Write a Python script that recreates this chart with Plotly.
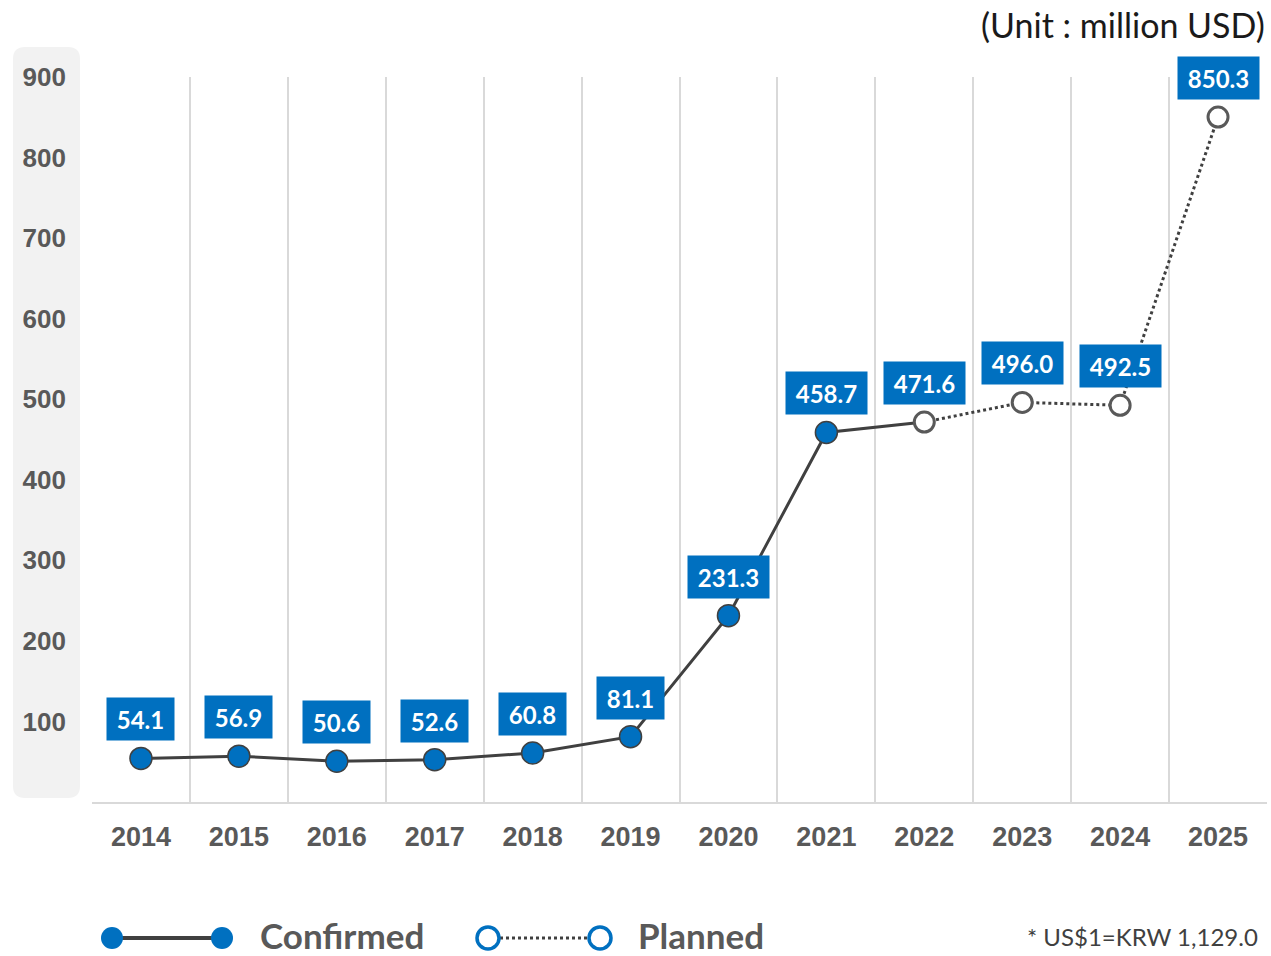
import plotly.graph_objects as go

years = ["2014", "2015", "2016", "2017", "2018", "2019", "2020", "2021", "2022", "2023", "2024", "2025"]
confirmed_years = years[:9]
confirmed_values = [54.1, 56.9, 50.6, 52.6, 60.8, 81.1, 231.3, 458.7, 471.6]
planned_years = years[8:]
planned_values = [471.6, 496.0, 492.5, 850.3]
y_ticks = [100, 200, 300, 400, 500, 600, 700, 800, 900]

W, H = 1271, 956
L, R, T, B = 92, 1267, 77, 802


def px(x):
    return (x - L) / (R - L)


def py(y):
    return (B - y) / (B - T)


BLUE = "#0070c0"
LINE = "#404040"
LABEL_FONT = "Liberation Sans"
CAL = "Lato"

fig = go.Figure()

# confirmed line
fig.add_trace(go.Scatter(
    x=confirmed_years, y=confirmed_values, mode="lines",
    line=dict(color=LINE, width=3), showlegend=False, hoverinfo="skip"))

# planned dotted line with open markers
fig.add_trace(go.Scatter(
    x=planned_years, y=planned_values, mode="lines+markers",
    line=dict(color=LINE, width=3, dash="dot"),
    marker=dict(size=20, color="white", line=dict(color="#595959", width=3)),
    showlegend=False))

# confirmed filled markers (excluding the 2022 point shown as planned/open)
fig.add_trace(go.Scatter(
    x=confirmed_years[:-1], y=confirmed_values[:-1], mode="markers",
    marker=dict(size=22, color=BLUE, line=dict(color=LINE, width=1.5)),
    showlegend=False))

# data labels
label_years = confirmed_years + planned_years[1:]
label_values = confirmed_values + planned_values[1:]
for yr, v in zip(label_years, label_values):
    t = f"{v:.1f}"
    fig.add_annotation(
        x=years.index(yr), y=v, xref="x", yref="y", text=t, showarrow=False,
        yshift=39, bgcolor=BLUE, borderpad=5, width=round(14.2 * len(t)), height=32,
        font=dict(family=CAL, size=24, color="white", weight="bold"))

shapes = []
# gray rounded box behind y tick labels
x0, x1, y0, y1, r = 13, 80, 47, 798, 12
path = (f"M {px(x0 + r)},{py(y0)} L {px(x1 - r)},{py(y0)} "
        f"Q {px(x1)},{py(y0)} {px(x1)},{py(y0 + r)} "
        f"L {px(x1)},{py(y1 - r)} Q {px(x1)},{py(y1)} {px(x1 - r)},{py(y1)} "
        f"L {px(x0 + r)},{py(y1)} Q {px(x0)},{py(y1)} {px(x0)},{py(y1 - r)} "
        f"L {px(x0)},{py(y0 + r)} Q {px(x0)},{py(y0)} {px(x0 + r)},{py(y0)} Z")
shapes.append(dict(type="path", path=path, xref="paper", yref="paper",
                   fillcolor="#f2f2f2", line=dict(width=0), layer="below"))

# custom legend glyphs
ly = py(938)
shapes.append(dict(type="line", xref="paper", yref="paper", x0=px(112), x1=px(222), y0=ly, y1=ly,
                   line=dict(color=LINE, width=4)))
shapes.append(dict(type="line", xref="paper", yref="paper", x0=px(488), x1=px(600), y0=ly, y1=ly,
                   line=dict(color=LINE, width=3, dash="dot")))
for cx, filled in [(112, True), (222, True), (488, False), (600, False)]:
    shapes.append(dict(type="circle", xref="paper", yref="paper",
                       xsizemode="pixel", ysizemode="pixel",
                       xanchor=px(cx), yanchor=ly, x0=-11, x1=11, y0=-11, y1=11,
                       fillcolor=BLUE if filled else "white",
                       line=dict(color=BLUE, width=0 if filled else 3.5)))

lty = py(935)
fig.add_annotation(x=px(258), y=lty, xref="paper", yref="paper", text="Confirmed",
                   showarrow=False, xanchor="left", yanchor="middle",
                   font=dict(family=CAL, size=35, color="#595959", weight="bold"))
fig.add_annotation(x=px(636), y=lty, xref="paper", yref="paper", text="Planned",
                   showarrow=False, xanchor="left", yanchor="middle",
                   font=dict(family=CAL, size=35, color="#595959", weight="bold"))
fig.add_annotation(x=px(1260), y=py(936), xref="paper", yref="paper", text="* US$1=KRW 1,129.0",
                   showarrow=False, xanchor="right", yanchor="middle",
                   font=dict(family=CAL, size=24, color="#404040"))
fig.add_annotation(x=px(1267), y=py(25), xref="paper", yref="paper", text="(Unit : million USD)",
                   showarrow=False, xanchor="right", yanchor="middle",
                   font=dict(family=CAL, size=34, color="#1a1a1a"))

fig.update_layout(
    width=W, height=H,
    margin=dict(l=L, r=W - R, t=T, b=H - B),
    paper_bgcolor="white", plot_bgcolor="white",
    shapes=shapes, showlegend=False,
    xaxis=dict(type="category", categoryorder="array", categoryarray=years,
               range=[-0.5, 11.5], tickson="boundaries", showgrid=True,
               gridcolor="#d9d9d9", gridwidth=2, showline=True, linecolor="#d9d9d9",
               linewidth=2, ticks="", zeroline=False, ticklabelstandoff=10,
               tickfont=dict(family=LABEL_FONT, size=27, color="#595959", weight="bold")),
    yaxis=dict(range=[0, 900], tickvals=y_ticks, showgrid=False, zeroline=False,
               showline=False, ticks="", ticklabelstandoff=25,
               tickfont=dict(family=LABEL_FONT, size=26, color="#595959", weight="bold")),
)

fig.write_html("out.html", config={"displayModeBar": False},
               post_script="document.body.style.margin='0';document.body.style.overflow='hidden';")
